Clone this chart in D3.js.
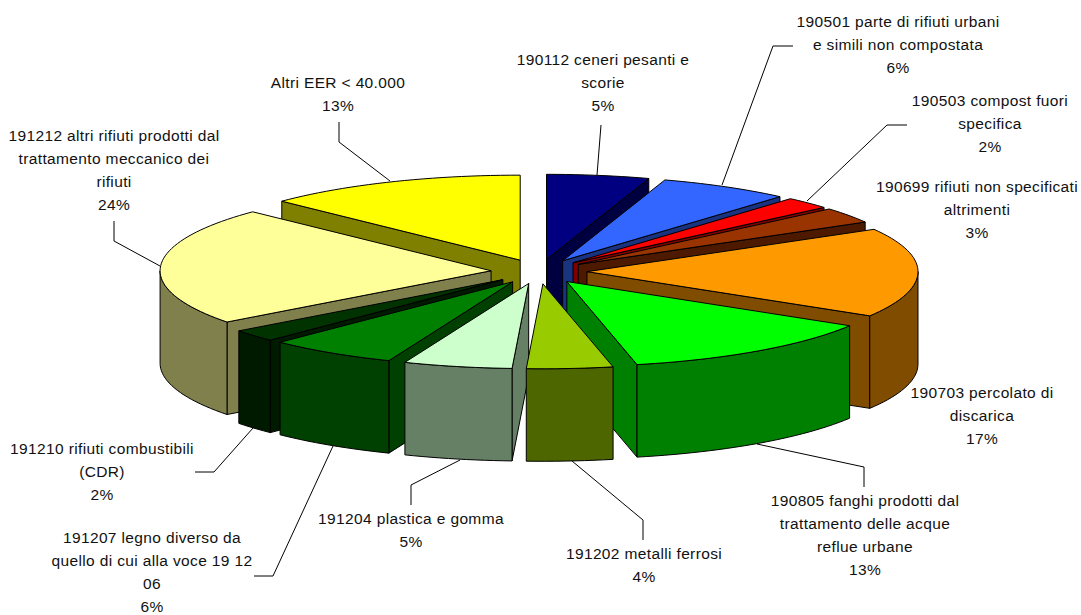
<!DOCTYPE html>
<html>
<head>
<meta charset="utf-8">
<script src="https://cdn.jsdelivr.net/npm/d3@7"></script>
<style>
html,body{margin:0;padding:0;background:#fff;}
svg{display:block;}
text{font-family:"Liberation Sans",Arial,sans-serif;font-size:15.5px;letter-spacing:0.36px;fill:#111;}
</style>
</head>
<body>
<svg id="chart" width="1081" height="615"></svg>
<script>
// ---- data ----
const categories = ["190112","190501","190503","190699","190703","190805","191202","191204","191207","191210","191212","Altri EER"];
const values = [5.0,6.4,2.3,3.0,17.0,12.9,4.2,5.3,6.3,2.3,22.5,12.8];
const sliceColors = ["#000080","#3366FF","#FF0000","#993300","#FF9900","#00FF00","#99CC00","#CCFFCC","#008000","#003300","#FFFF99","#FFFF00"];
const labelLines = [
  ["190112 ceneri pesanti e","scorie"],
  ["190501 parte di rifiuti urbani","e simili non compostata"],
  ["190503 compost fuori","specifica"],
  ["190699 rifiuti non specificati","altrimenti"],
  ["190703 percolato di","discarica"],
  ["190805 fanghi prodotti dal","trattamento delle acque","reflue urbane"],
  ["191202 metalli ferrosi"],
  ["191204 plastica e gomma"],
  ["191207 legno diverso da","quello di cui alla voce 19 12","06"],
  ["191210 rifiuti combustibili","(CDR)"],
  ["191212 altri rifiuti prodotti dal","trattamento meccanico dei","rifiuti"],
  ["Altri EER < 40.000"]
];
const percentLabels = ["5%","6%","2%","3%","17%","13%","4%","5%","6%","2%","24%","13%"];

// ---- layout (not data) ----
const cx = 539, cy = 271.5, rx = 331, ry = 85, depth = 92.5, explode = 0.145;
const labelCenter = [[603,60],[898,22],[990,101],[977,187],[982,393],[865,501],[644,554],[411,519],[152,538],[102,449],[114,136],[338,83]];
const lineStep = 22.7;
const leaders = [
  [[601,125],[597,175]],
  [[793,46],[773,46],[722,185]],
  [[907,125],[887,125],[807,201]],
  null,
  null,
  [[864,487],[864,467],[757,444]],
  [[643,540],[643,520],[572,461]],
  [[411,505],[411,485],[460,460]],
  [[254,576],[273,576],[333,446]],
  [[195,472],[214,472],[253,428]],
  [[114,221],[114,241],[160,266]],
  [[339,122],[339,142],[390,181]]
];

const svg = d3.select("#chart");
const xs = d3.scaleLinear().domain([-1,1]).range([cx-rx,cx+rx]);
const ys = d3.scaleLinear().domain([-1,1]).range([cy-ry,cy+ry]);
const line = d3.line().x(d=>d[0]).y(d=>d[1]);

const halve = c => { const r = d3.rgb(c); return d3.rgb(r.r/2,r.g/2,r.b/2).formatHex(); };

const arcs = d3.pie().sort(null).value(d=>d)(values);

const sample = (f,a0,a1) => {
  const n = Math.max(4,Math.ceil((a1-a0)/0.03));
  return d3.range(n+1).map(k=>f(a0+(a1-a0)*k/n));
};

const slices = arcs.map((a,i)=>{
  const mid = (a.startAngle+a.endAngle)/2;
  const ox = explode*Math.sin(mid), oy = -explode*Math.cos(mid);
  const pt = t => [xs(ox+Math.sin(t)), ys(oy-Math.cos(t))];
  const tip = [xs(ox), ys(oy)];
  const rim = sample(pt,a.startAngle,a.endAngle);
  const f0 = Math.max(a.startAngle,Math.PI/2), f1 = Math.min(a.endAngle,Math.PI*1.5);
  const frontRim = f1>f0 ? sample(pt,f0,f1) : null;
  return {i,mid,tip,rim,frontRim,a,color:sliceColors[i],wall:halve(sliceColors[i])};
});

const down = p => [p[0],p[1]+depth];
const order = slices.slice().sort((p,q)=>d3.descending(Math.cos(p.mid),Math.cos(q.mid)));

const g = svg.append("g");
order.forEach(s=>{
  const first = s.rim[0], last = s.rim[s.rim.length-1];
  const sg = g.append("g");
  const style = sel => sel.attr("stroke","#000").attr("stroke-width",1).attr("stroke-linejoin","round");
  // cut faces, only those that face the viewer
  if(Math.sin(s.a.startAngle) < -1e-6)
    sg.append("path").attr("d",line([s.tip,first,down(first),down(s.tip)])+"Z").attr("fill",s.wall).call(style);
  if(Math.sin(s.a.endAngle) > 1e-6)
    sg.append("path").attr("d",line([s.tip,last,down(last),down(s.tip)])+"Z").attr("fill",s.wall).call(style);
  // outer face
  if(s.frontRim)
    sg.append("path").attr("d",line(s.frontRim.concat(s.frontRim.slice().reverse().map(down)))+"Z").attr("fill",s.wall).call(style);
  // top face
  sg.append("path").attr("d",line([s.tip].concat(s.rim))+"Z").attr("fill",s.color).call(style);
});

// leaders
leaders.forEach(l=>{
  if(!l) return;
  svg.append("path").attr("d",line(l)).attr("fill","none").attr("stroke","#000").attr("stroke-width",1);
});

// labels
labelLines.forEach((ls,i)=>{
  const t = svg.append("text").attr("text-anchor","middle");
  const [x,y] = labelCenter[i];
  ls.concat([percentLabels[i]]).forEach((s,k)=>{
    t.append("tspan").attr("x",x).attr("y",y+k*lineStep).attr("dy","0.35em").text(s);
  });
});
</script>
</body>
</html>
